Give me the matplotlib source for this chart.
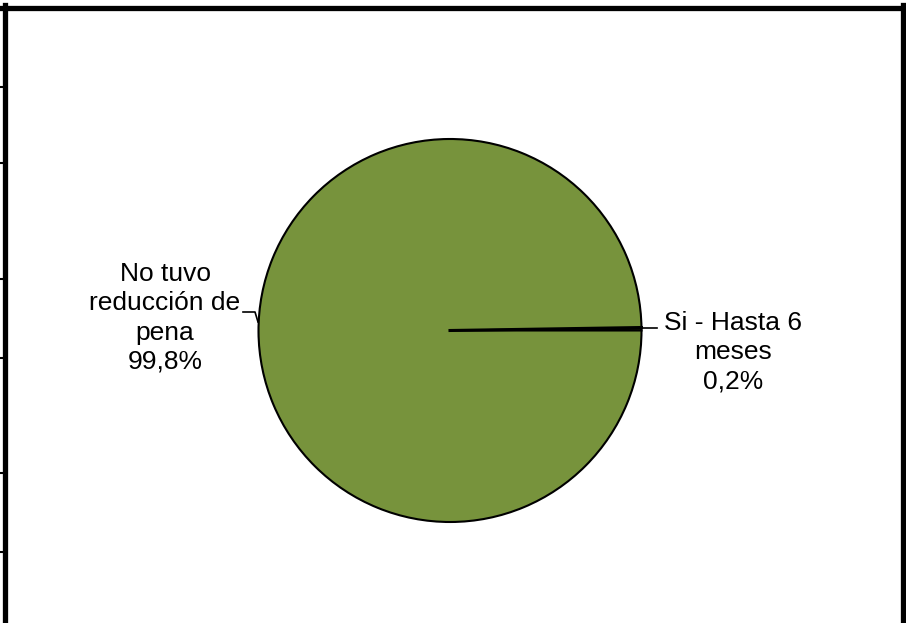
import numpy as np
import matplotlib
matplotlib.use("Agg")
import matplotlib.pyplot as plt
from matplotlib.lines import Line2D

# data
labels = ["Si - Hasta 6\nmeses", "No tuvo\nreducción de\npena"]
values = [0.2, 99.8]
pct_text = ["0,2%", "99,8%"]
colors = ["#77933C", "#77933C"]

W, H = 906, 623
fig = plt.figure(figsize=(W / 100, H / 100), dpi=100)
ax = fig.add_axes([0, 0, 1, 1])

cx, cy, r = 450, 330.5, 191.5
wedges, _ = ax.pie(values, colors=colors, startangle=0, counterclock=False,
                   center=(cx, cy), radius=r, frame=True,
                   wedgeprops=dict(edgecolor="black", linewidth=1.5))
ax.set_xlim(0, W)
ax.set_ylim(H, 0)
ax.axis("off")

# the thin slice line drawn a bit heavier, like in the original
ax.plot([cx, cx + r], [cy, cy - 3], color="black", lw=2.2, zorder=5)

font = dict(family=["Liberation Sans", "DejaVu Sans"], fontsize=19,
            ha="center", va="center", linespacing=1.27)

# right label (small slice)
ax.plot([cx + r, 657], [328, 328], color="black", lw=1.2)
ax.text(733, 352, labels[0] + "\n" + pct_text[0], **font)

# left label (big slice)
ax.plot([243, 255, 258], [312, 312, 322], color="black", lw=1.2)
ax.text(165, 318, labels[1] + "\n" + pct_text[1], **font)

# outer frame of the chart area
fig.add_artist(Line2D([4.5 / W, 4.5 / W], [0, 1 - 5 / H], transform=fig.transFigure,
                      color="black", lw=3.8))
fig.add_artist(Line2D([0, 905 / W], [1 - 7.5 / H, 1 - 7.5 / H], transform=fig.transFigure,
                      color="black", lw=3.8))
fig.add_artist(Line2D([902.5 / W, 902.5 / W], [0, 1 - 5 / H], transform=fig.transFigure,
                      color="black", lw=3.8))

# little tick stubs on the left edge
for ty in [87, 163, 279, 358, 473, 552]:
    fig.add_artist(Line2D([0, 3 / W], [1 - ty / H, 1 - ty / H], transform=fig.transFigure,
                          color="black", lw=1.5))

fig.savefig("out.png", dpi=100)
